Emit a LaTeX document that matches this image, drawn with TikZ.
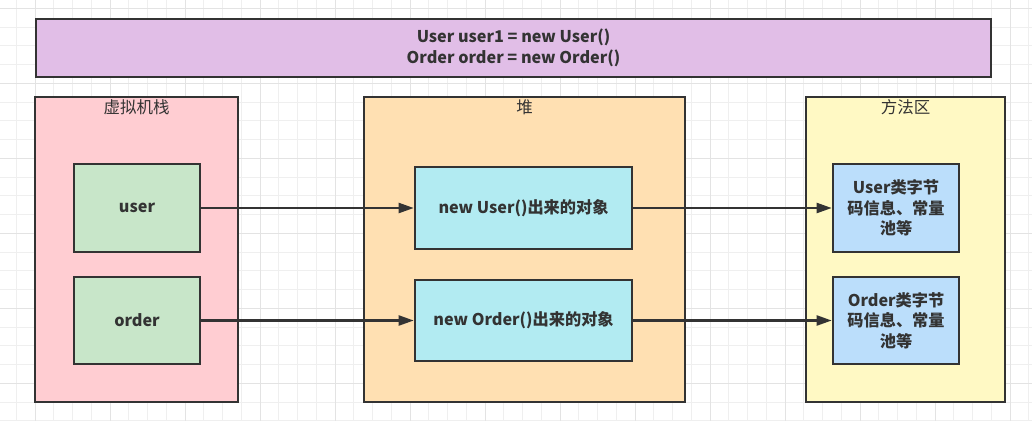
\documentclass[tikz,border=0pt]{standalone}
\usepackage{fontspec}
\setmainfont{Noto Sans CJK SC}
\usetikzlibrary{arrows.meta}
\definecolor{gridminor}{HTML}{EFEFEF}
\definecolor{gridmajor}{HTML}{E3E3E3}
\definecolor{edge}{HTML}{333333}
\definecolor{codebg}{HTML}{E1BEE7}
\definecolor{stackbg}{HTML}{FFCDD2}
\definecolor{heapbg}{HTML}{FFE0B2}
\definecolor{methodbg}{HTML}{FFF9C4}
\definecolor{varbg}{HTML}{C8E6C9}
\definecolor{objbg}{HTML}{B2EBF2}
\definecolor{classbg}{HTML}{BBDEFB}

\begin{document}
\begin{tikzpicture}[x=1pt,y=-1pt,
    box/.style={draw=edge, line width=2.6pt, inner sep=0pt, text=edge,
      font=\fontsize{16.2}{20.5}\selectfont\bfseries, align=center},
    area/.style={box, minimum width=203pt, minimum height=305pt},
    arealabel/.style={text=edge, font=\fontsize{16.5}{19}\selectfont, anchor=center},
    conn/.style={draw=edge, line width=2.2pt, -{Triangle[length=15pt,width=10pt]}}]
    \useasboundingbox (0,0) rectangle (1032,421);
    \fill[white] (0,0) rectangle (1032,421);
    % background grid
    \foreach \x in {16.25,35,...,1032} \draw[gridminor, line width=0.8pt] (\x,0) -- (\x,421);
    \foreach \y in {8.25,27,...,421} \draw[gridminor, line width=0.8pt] (0,\y) -- (1032,\y);
    \foreach \x in {35,110,...,1032} \draw[gridmajor, line width=0.8pt] (\x,0) -- (\x,421);
    \foreach \y in {8.25,83.25,...,421} \draw[gridmajor, line width=0.8pt] (0,\y) -- (1032,\y);

    % code line
    \node[box, fill=codebg, minimum width=955pt, minimum height=58pt] (code) at (513.5,48)
        {User user1 = new User()\\Order order = new Order()};

    % the three memory areas
    \node[area, fill=stackbg] (stack) at (136.5,249.5) {};
    \node[area, fill=heapbg, minimum width=321pt] (heap) at (524.5,249.5) {};
    \node[area, fill=methodbg, minimum width=199pt] (method) at (905.5,249.5) {};
    \node[arealabel] (stacklabel) at (136.5,107) {虚拟机栈};
    \node[arealabel] (heaplabel) at (524.5,107) {堆};
    \node[arealabel] (methodlabel) at (905.5,107) {方法区};

    % variables
    \node[box, fill=varbg, minimum width=126pt, minimum height=88pt] (user) at (137,208) {user};
    \node[box, fill=varbg, minimum width=126pt, minimum height=87pt] (order) at (137,320.5) {order};

    % objects
    \node[box, fill=objbg, minimum width=217pt, minimum height=82pt] (newuser) at (523.5,208) {new User()出来的对象};
    \node[box, fill=objbg, minimum width=217pt, minimum height=81pt] (neworder) at (523.5,320.5) {new Order()出来的对象};

    % class info
    \node[box, fill=classbg, minimum width=126pt, minimum height=88pt] (userclass) at (896,208)
        {User类字节\\码信息、常量\\池等};
    \node[box, fill=classbg, minimum width=126pt, minimum height=87pt] (orderclass) at (896,320.5)
        {Order类字节\\码信息、常量\\池等};

    \draw[conn] (user.east) -- (newuser.west);
    \draw[conn] (order.east) -- (neworder.west);
    \draw[conn] (newuser.east) -- (userclass.west);
    \draw[conn] (neworder.east) -- (orderclass.west);
\end{tikzpicture}
\end{document}
